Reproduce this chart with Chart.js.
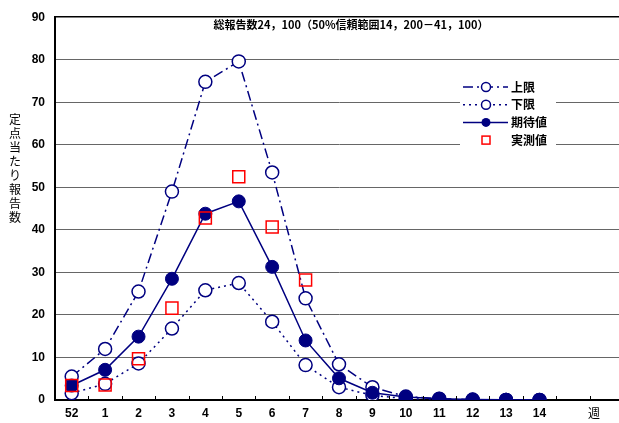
<!DOCTYPE html>
<html lang="ja">
<head>
<meta charset="UTF-8" />
<title>週別報告数</title>
<script src="https://cdn.jsdelivr.net/npm/chart.js"></script>
<style>
  html, body { margin: 0; padding: 0; background: #fff; overflow: hidden; }
  .grafico { width: 633px; height: 423px; }
</style>
</head>
<body>
<div class="grafico">
  <canvas id="myChartCanvas" width="633" height="423"></canvas>
</div>
<script>
  // eixo x: semanas (52 do ano anterior, depois 1..14) + duas colunas vazias
  const semanas = ["52", "1", "2", "3", "4", "5", "6", "7", "8", "9", "10", "11", "12", "13", "14", "", ""];
  const yTicks = [0, 10, 20, 30, 40, 50, 60, 70, 80, 90];

  const limiteSuperior = [5.5, 12, 25.5, 49, 74.8, 79.6, 53.5, 23.9, 8.4, 3, 0.8, 0.3, 0.1, 0, 0];
  const limiteInferior = [1.6, 3.8, 8.6, 16.8, 25.8, 27.5, 18.4, 8.2, 3, 1.1, 0.3, 0.1, 0, 0, 0];
  const valorEsperado = [3.4, 7.1, 14.9, 28.5, 43.8, 46.7, 31.3, 14, 5.1, 1.7, 0.7, 0.3, 0.1, 0.05, 0];
  const valorObservado = [3.4, 3.5, 9.7, 21.6, 42.8, 52.5, 40.7, 28.2];

  const titulo = "総報告数24，100（50%信頼範囲14，200－41，100）";
  const tituloEixoY = "定点当たり報告数";
  const tituloEixoX = "週";

  const azul = "#000080";
  const vermelho = "#ff0000";
  const fonteNum = "'Liberation Sans', Arial, sans-serif";
  const fonteJp = "'Noto Sans CJK JP', sans-serif";

  const legenda = [
    { texto: "上限", dash: [10, 4, 2, 4], ponto: "aberto" },
    { texto: "下限", dash: [2, 4], ponto: "aberto" },
    { texto: "期待値", dash: [], ponto: "cheio" },
    { texto: "実測値", dash: null, ponto: "quadrado" },
  ];

  // textos, caixa da legenda e marcas do eixo x
  const extras = {
    id: "extras",
    beforeDatasetsDraw(chart) {
      const c = chart.ctx;
      c.save();
      c.fillStyle = "#fff";
      c.fillRect(460, 79, 96, 70);
      c.restore();
    },
    afterDraw(chart) {
      const c = chart.ctx;
      const area = chart.chartArea;
      c.save();

      // marcas do eixo x para dentro
      const w = (area.right - area.left) / semanas.length;
      c.strokeStyle = "#000";
      c.lineWidth = 1;
      for (let i = 1; i < semanas.length; i++) {
        const x = Math.round(area.left + i * w) + 0.5;
        c.beginPath();
        c.moveTo(x, area.bottom - 4);
        c.lineTo(x, area.bottom);
        c.stroke();
      }

      // titulo
      c.fillStyle = "#000";
      c.font = "bold 11px " + fonteJp;
      c.textAlign = "center";
      c.textBaseline = "middle";
      c.fillText(titulo, 351, 25);

      // titulo do eixo y, vertical
      c.font = "12px " + fonteJp;
      for (let i = 0; i < tituloEixoY.length; i++) {
        c.fillText(tituloEixoY[i], 15, 119 + i * 14.1);
      }

      // titulo do eixo x
      c.fillText(tituloEixoX, 594, 413);

      // legenda
      legenda.forEach((item, i) => {
        const y = 87 + i * 17.7;
        const cx = 486;
        if (item.dash) {
          c.strokeStyle = azul;
          c.lineWidth = 1.5;
          c.setLineDash(item.dash);
          c.beginPath();
          c.moveTo(463, y);
          c.lineTo(508, y);
          c.stroke();
          c.setLineDash([]);
        }
        if (item.ponto === "aberto") {
          c.beginPath();
          c.arc(cx, y, 4.5, 0, Math.PI * 2);
          c.fillStyle = "#fff";
          c.fill();
          c.strokeStyle = azul;
          c.lineWidth = 1.5;
          c.stroke();
        } else if (item.ponto === "cheio") {
          c.beginPath();
          c.arc(cx, y, 4.5, 0, Math.PI * 2);
          c.fillStyle = azul;
          c.fill();
        } else {
          c.strokeStyle = vermelho;
          c.lineWidth = 1.5;
          c.strokeRect(cx - 4, y - 4, 8, 8);
        }
        c.fillStyle = "#000";
        c.font = "bold 12px " + fonteJp;
        c.textAlign = "left";
        c.fillText(item.texto, 511, y);
      });

      c.restore();
    },
  };

  const ctx = document.getElementById("myChartCanvas");

  const dados = {
    labels: semanas,
    datasets: [
      {
        label: "実測値",
        data: valorObservado,
        showLine: false,
        pointStyle: "rect",
        pointRadius: 8.5,
        pointBorderWidth: 1.5,
        pointBorderColor: vermelho,
        pointBackgroundColor: "rgba(0,0,0,0)",
        order: 0,
      },
      {
        label: "期待値",
        data: valorEsperado,
        borderColor: azul,
        borderWidth: 1.5,
        pointRadius: 6.5,
        pointBackgroundColor: azul,
        pointBorderColor: azul,
        pointBorderWidth: 1,
        order: 1,
      },
      {
        label: "上限",
        data: limiteSuperior,
        borderColor: azul,
        borderWidth: 1.5,
        borderDash: [10, 4, 2, 4],
        pointRadius: 6.5,
        pointBackgroundColor: "#fff",
        pointBorderColor: azul,
        pointBorderWidth: 1.5,
        order: 2,
      },
      {
        label: "下限",
        data: limiteInferior,
        borderColor: azul,
        borderWidth: 1.5,
        borderDash: [2, 4],
        pointRadius: 6.5,
        pointBackgroundColor: "#fff",
        pointBorderColor: azul,
        pointBorderWidth: 1.5,
        order: 3,
      },
    ],
  };

  const config = {
    type: "line",
    data: dados,
    options: {
      responsive: false,
      animation: false,
      devicePixelRatio: 1,
      layout: { padding: { top: 10, left: 0, right: 0, bottom: 0 } },
      elements: { line: { tension: 0, fill: false } },
      plugins: {
        legend: { display: false },
        tooltip: { enabled: false },
        title: { display: false },
      },
      scales: {
        x: {
          offset: true,
          afterFit(scale) { scale.height = 23; },
          grid: { display: true, drawOnChartArea: false, drawTicks: false, offset: true },
          border: { display: true, color: "#000", width: 2 },
          ticks: {
            color: "#000",
            padding: 6,
            maxRotation: 0,
            autoSkip: false,
            font: { family: fonteNum, size: 12, weight: "bold" },
          },
        },
        y: {
          min: 0,
          max: 90,
          afterFit(scale) { scale.width = 55; },
          afterBuildTicks(scale) {
            scale.ticks = yTicks.map((v) => ({ value: v }));
          },
          grid: {
            drawTicks: false,
            color: (c) => (c.tick && c.tick.value === 90 ? "#000" : "#666"),
            lineWidth: (c) => (c.tick && c.tick.value === 90 ? 1.5 : 1),
          },
          border: { display: true, color: "#000", width: 2 },
          ticks: {
            color: "#000",
            padding: 10,
            font: { family: fonteNum, size: 12, weight: "bold" },
          },
        },
      },
    },
    plugins: [extras],
  };

  let myChart = new Chart(ctx, config);
</script>
</body>
</html>
